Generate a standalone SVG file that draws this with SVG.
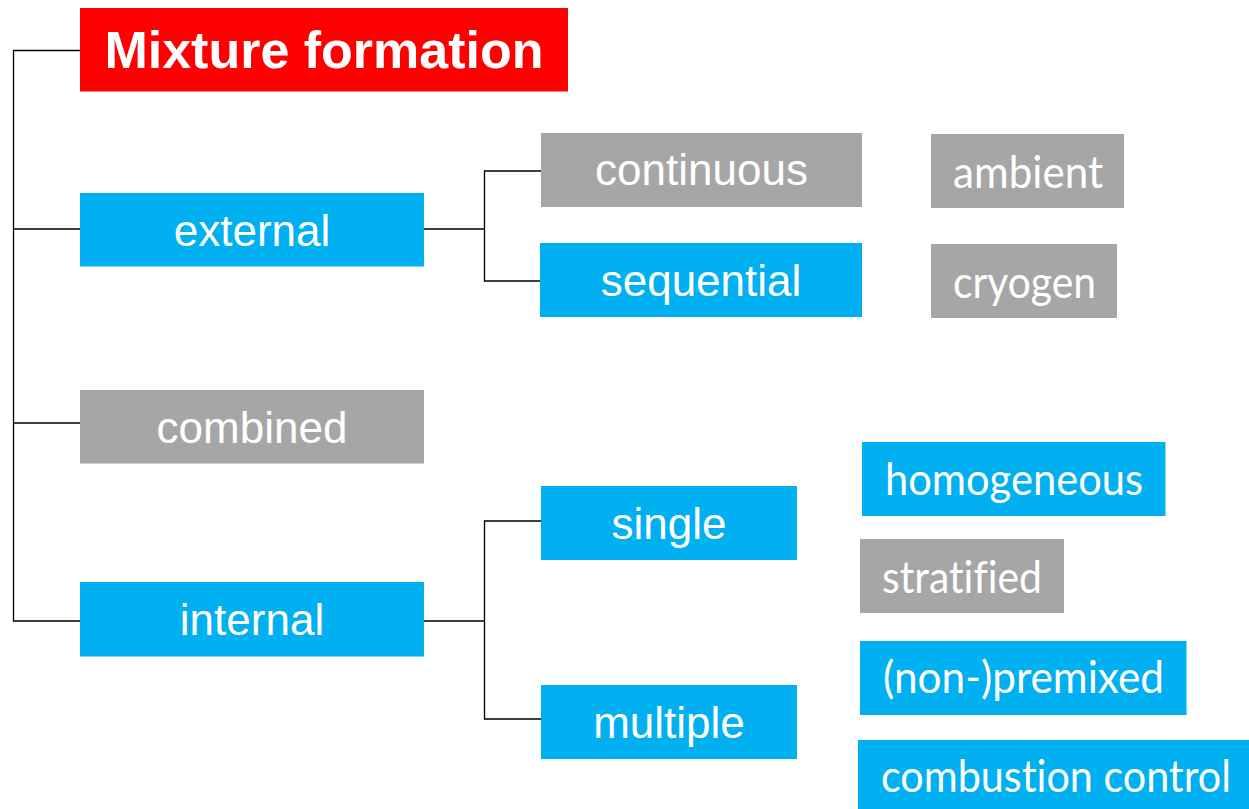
<svg xmlns="http://www.w3.org/2000/svg" width="1249" height="809" viewBox="0 0 1249 809">
<style>
.red{fill:#FF0000}
.blue{fill:#00B0F0}
.gray{fill:#A6A6A6}
.t{fill:#FFFFFF;font-family:"Liberation Sans",Arial,sans-serif;font-size:44px;text-anchor:middle}
.title{fill:#FFFFFF;font-family:"Liberation Sans",Arial,sans-serif;font-size:52px;font-weight:bold;text-anchor:middle}
.c{fill:#FFFFFF;font-family:Lato,"Open Sans",sans-serif;font-size:44px;font-variant-ligatures:none;font-feature-settings:"liga" 0,"dlig" 0}
.ln{fill:none;stroke:#000;stroke-width:1.3}
</style>
<rect width="1249" height="809" fill="#FFFFFF"/>
<g id="connectors">
<path class="ln" d="M80,50.5 H13.5 V621 H80 M13.5,229 H80 M13.5,423 H80"/>
<path class="ln" d="M424,229 H484.5 M541,171 H484.5 V281 H541"/>
<path class="ln" d="M424,621 H484.5 M541,521 H484.5 V719 H541"/>
</g>
<g id="mixture-formation"><rect class="red" x="80" y="8" width="488" height="83.5"/><text class="title" x="324" y="68">Mixture formation</text></g>
<g id="external"><rect class="blue" x="80" y="193" width="344" height="73.5"/><text class="t" x="252" y="246">external</text></g>
<g id="combined"><rect class="gray" x="80" y="390" width="344" height="73.5"/><text class="t" x="252" y="443">combined</text></g>
<g id="internal"><rect class="blue" x="80" y="582" width="344" height="74.5"/><text class="t" x="252" y="635">internal</text></g>
<g id="continuous"><rect class="gray" x="541" y="133" width="321" height="74"/><text class="t" x="701.5" y="185">continuous</text></g>
<g id="sequential"><rect class="blue" x="540" y="243" width="322" height="74"/><text class="t" x="701" y="296">sequential</text></g>
<g id="single"><rect class="blue" x="541" y="486" width="256" height="74"/><text class="t" x="669" y="539">single</text></g>
<g id="multiple"><rect class="blue" x="541" y="685" width="256" height="74"/><text class="t" x="669" y="738">multiple</text></g>
<g id="ambient"><rect class="gray" x="931" y="134" width="193" height="74"/><text class="c" x="953" y="187.5" textLength="150" lengthAdjust="spacingAndGlyphs">ambient</text></g>
<g id="cryogen"><rect class="gray" x="931" y="244" width="186" height="74"/><text class="c" x="953" y="297.5" textLength="143" lengthAdjust="spacingAndGlyphs">cryogen</text></g>
<g id="homogeneous"><rect class="blue" x="862" y="442" width="303.5" height="74"/><text class="c" x="885" y="495" textLength="258" lengthAdjust="spacingAndGlyphs">homogeneous</text></g>
<g id="stratified"><rect class="gray" x="860" y="539" width="204" height="74"/><text class="c" x="882" y="592.5" textLength="160" lengthAdjust="spacingAndGlyphs">stratified</text></g>
<g id="non-premixed"><rect class="blue" x="860" y="641" width="326.5" height="74"/><text class="c" x="883" y="692.5" textLength="281" lengthAdjust="spacingAndGlyphs">(non-)premixed</text></g>
<g id="combustion-control"><rect class="blue" x="858" y="740" width="391" height="69"/><text class="c" x="881" y="791.5" textLength="350" lengthAdjust="spacingAndGlyphs">combustion control</text></g>
</svg>
